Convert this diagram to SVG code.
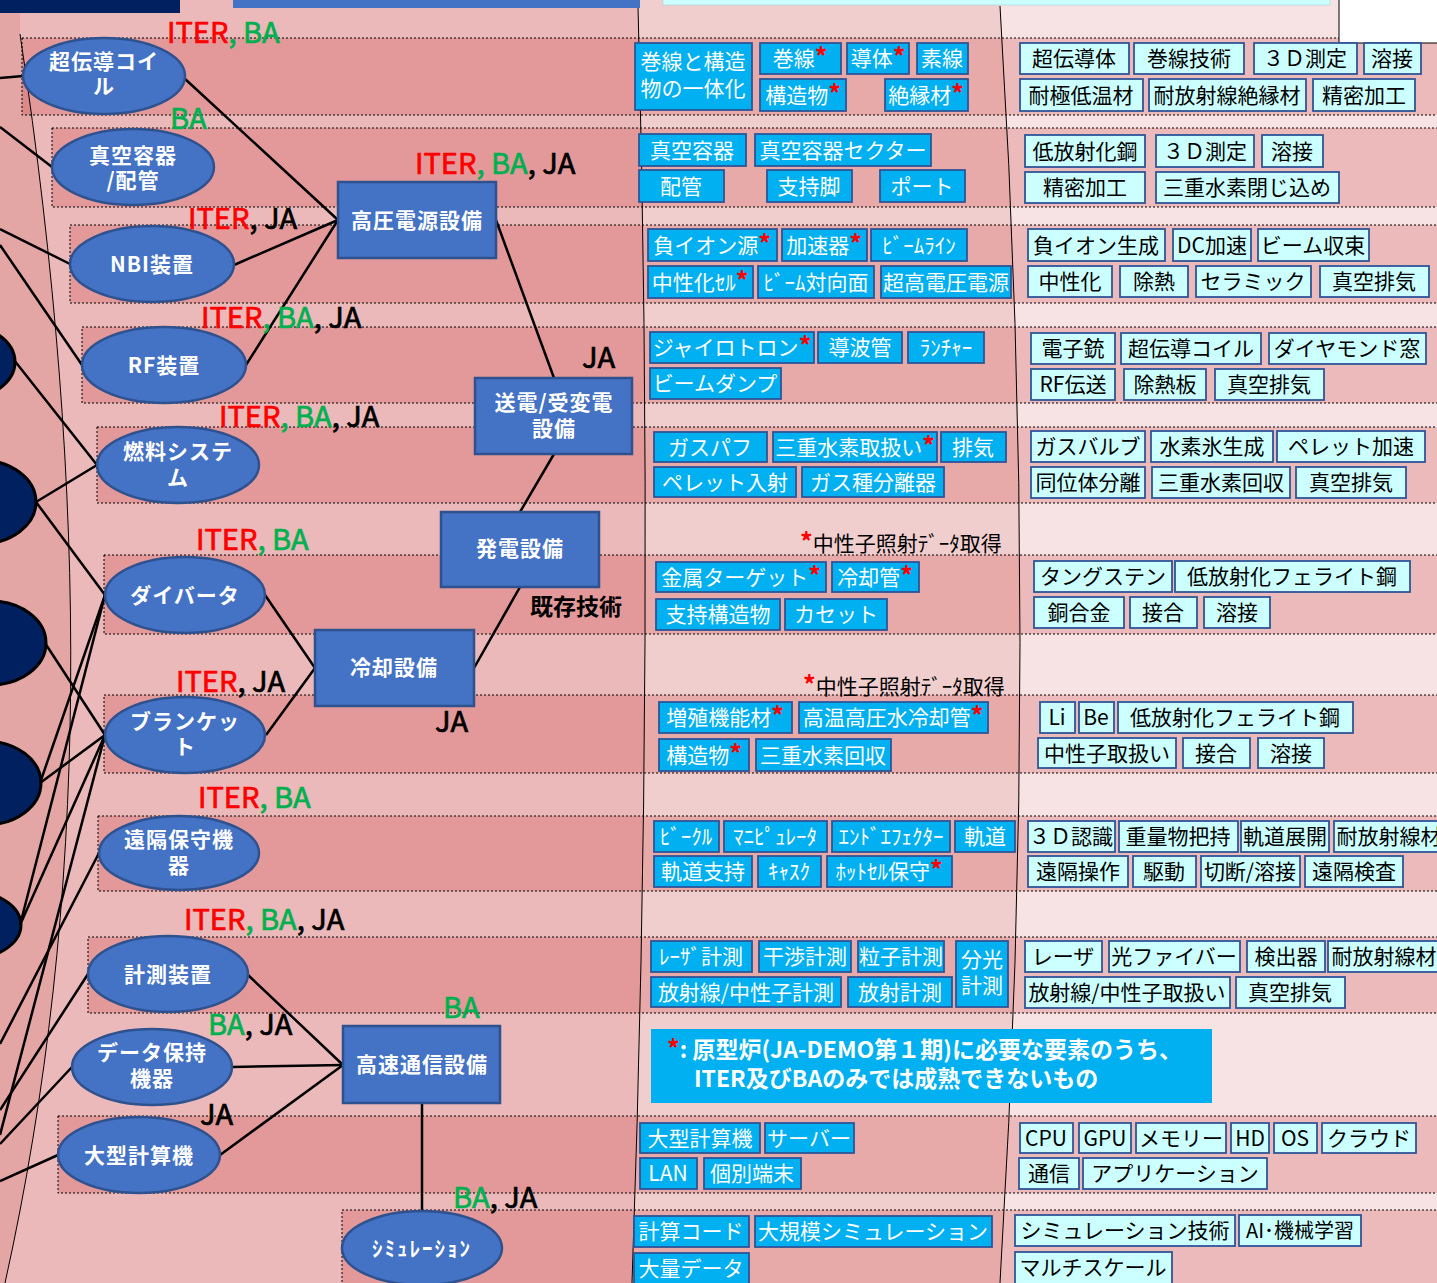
<svg xmlns="http://www.w3.org/2000/svg" width="1437" height="1283" viewBox="0 0 1437 1283">
<style>
text{font-family:'Noto Sans CJK JP',sans-serif}
.mb{fill:#00B0F0;stroke:#2F5597;stroke-width:1.8}
.rb{fill:#CCFFFF;stroke:#2F5597;stroke-width:1.8}
.mt{fill:#fff;font-size:21px;text-anchor:middle}
.rt{fill:#000;font-size:21px;text-anchor:middle}
.a{fill:#f00;font-weight:bold;font-size:25px}
.el{fill:#4472C4;stroke:#2F528F;stroke-width:2.5}
.et{fill:#fff;font-size:21px;font-weight:bold;text-anchor:middle;letter-spacing:1px}
.bx{fill:#4472C4;stroke:#2F528F;stroke-width:2.5}
.dk{fill:#002060;stroke:#000;stroke-width:3}
.lb{font-family:'Liberation Sans',Arial,sans-serif;font-size:29px;stroke-width:0.7}
.r{fill:#f00;stroke:#f00}.g{fill:#00B050;stroke:#00B050}.k{fill:#000;stroke:#000}
.row{fill:#C82828;fill-opacity:.22;stroke:#000;stroke-width:1;stroke-dasharray:2 2}
.cn line{stroke:#000;stroke-width:2.5}
.thin{fill:none;stroke:#000;stroke-width:1}
</style>
<!-- background -->
<rect x="0" y="0" width="1437" height="1283" fill="#EBB9B9"/>
<path d="M0 0 L20 0 L20 34 C90 500 90 900 5 1283 L0 1283 Z" fill="#E4A5A5"/>
<path d="M638 0 Q655 640 632 1283 L1000 1283 Q1040 640 1000 0 Z" fill="#fff" fill-opacity="0.3"/>
<path d="M1000 0 Q1040 640 1000 1283 L1437 1283 L1437 0 Z" fill="#fff" fill-opacity="0.6"/>
<!-- row bands -->
<g id="rows">
<rect class="row" x="22" y="38" width="1420" height="77"/>
<rect class="row" x="52" y="128" width="1390" height="79"/>
<rect class="row" x="70" y="225" width="1372" height="78"/>
<rect class="row" x="82" y="327" width="1360" height="76"/>
<rect class="row" x="97" y="427" width="1345" height="76"/>
<rect class="row" x="104" y="555" width="1338" height="79"/>
<rect class="row" x="104" y="695" width="1338" height="78"/>
<rect class="row" x="98" y="816" width="1344" height="75"/>
<rect class="row" x="88" y="937" width="1354" height="76"/>
<rect class="row" x="58" y="1116" width="1384" height="77"/>
<rect class="row" x="342" y="1210" width="1100" height="80"/>
</g>
<path class="thin" d="M20 34 C90 500 90 900 5 1283"/>
<path class="thin" d="M638 6 Q655 640 632 1283"/>
<path class="thin" d="M1000 6 Q1040 640 1000 1283"/>
<!-- top bars -->
<rect x="0" y="0" width="180" height="13" fill="#002060"/>
<rect x="233" y="0" width="407" height="8" fill="#4472C4"/>
<rect x="663" y="-1" width="667" height="6" fill="#CCFFFF" stroke="#9CC" stroke-width="0.5"/>
<rect x="1339" y="-1" width="100" height="44" fill="#fff" stroke="#000" stroke-width="1"/>
<!-- dark ellipses at left -->
<g id="outer-nodes">
<ellipse class="dk" cx="-40" cy="362" rx="55" ry="38"/>
<ellipse class="dk" cx="-20" cy="502" rx="56" ry="42"/>
<ellipse class="dk" cx="-10" cy="643" rx="56" ry="42"/>
<ellipse class="dk" cx="-15" cy="783" rx="56" ry="42"/>
<ellipse class="dk" cx="-35" cy="925" rx="56" ry="35"/>
</g>
<!-- connectors -->
<g id="connectors" class="cn">
<line x1="184" y1="78" x2="338" y2="220"/>
<line x1="234" y1="265" x2="338" y2="220"/>
<line x1="246" y1="365" x2="338" y2="220"/>
<line x1="496" y1="220" x2="554" y2="378"/>
<line x1="554" y1="454" x2="520" y2="512"/>
<line x1="520" y1="587" x2="474" y2="668"/>
<line x1="265" y1="595" x2="315" y2="668"/>
<line x1="266" y1="735" x2="315" y2="668"/>
<line x1="248" y1="975" x2="343" y2="1065"/>
<line x1="232" y1="1067" x2="343" y2="1065"/>
<line x1="220" y1="1155" x2="343" y2="1065"/>
<line x1="422" y1="1103" x2="422" y2="1211"/>
<line x1="0" y1="78" x2="23" y2="76"/>
<line x1="0" y1="127" x2="52" y2="167"/>
<line x1="0" y1="229" x2="70" y2="264"/>
<line x1="0" y1="245" x2="82" y2="365"/>
<line x1="14" y1="360" x2="97" y2="465"/>
<line x1="36" y1="502" x2="97" y2="465"/>
<line x1="36" y1="502" x2="105" y2="595"/>
<line x1="45" y1="643" x2="105" y2="735"/>
<line x1="40" y1="783" x2="105" y2="735"/>
<line x1="40" y1="783" x2="105" y2="595"/>
<line x1="20" y1="925" x2="105" y2="595"/>
<line x1="20" y1="925" x2="105" y2="735"/>
<line x1="0" y1="1135" x2="105" y2="735"/>
<line x1="0" y1="1044" x2="99" y2="853"/>
<line x1="0" y1="1110" x2="88" y2="974"/>
<line x1="0" y1="1144" x2="72" y2="1067"/>
<line x1="0" y1="1181" x2="58" y2="1155"/>
</g>
<!-- ellipse nodes -->
<g id="n-coil"><ellipse class="el" cx="104" cy="76" rx="81" ry="38"/><text class="et" x="104" y="69">超伝導コイ</text><text class="et" x="104" y="94">ル</text></g>
<g id="n-vessel"><ellipse class="el" cx="133" cy="167" rx="81" ry="38"/><text class="et" x="133" y="163">真空容器</text><text class="et" x="133" y="188">/配管</text></g>
<g id="n-nbi"><ellipse class="el" cx="152" cy="264" rx="82" ry="38"/><text class="et" x="152" y="272">NBI装置</text></g>
<g id="n-rf"><ellipse class="el" cx="164" cy="365" rx="82" ry="38"/><text class="et" x="164" y="373">RF装置</text></g>
<g id="n-fuel"><ellipse class="el" cx="178" cy="465" rx="81" ry="38"/><text class="et" x="178" y="459">燃料システ</text><text class="et" x="178" y="485">ム</text></g>
<g id="n-divertor"><ellipse class="el" cx="185" cy="595" rx="80" ry="38"/><text class="et" x="185" y="603">ダイバータ</text></g>
<g id="n-blanket"><ellipse class="el" cx="185" cy="735" rx="80" ry="38"/><text class="et" x="185" y="729">ブランケッ</text><text class="et" x="185" y="754">ト</text></g>
<g id="n-rh"><ellipse class="el" cx="179" cy="853" rx="80" ry="37"/><text class="et" x="179" y="847">遠隔保守機</text><text class="et" x="179" y="873">器</text></g>
<g id="n-diag"><ellipse class="el" cx="168" cy="974" rx="80" ry="38"/><text class="et" x="168" y="982">計測装置</text></g>
<g id="n-data"><ellipse class="el" cx="152" cy="1067" rx="80" ry="38"/><text class="et" x="152" y="1060">データ保持</text><text class="et" x="152" y="1086">機器</text></g>
<g id="n-hpc"><ellipse class="el" cx="139" cy="1155" rx="81" ry="38"/><text class="et" x="139" y="1163">大型計算機</text></g>
<g id="n-sim"><ellipse class="el" cx="422" cy="1248" rx="80" ry="37"/><text class="et" x="422" y="1256" style="letter-spacing:2px">ｼﾐｭﾚｰｼｮﾝ</text></g>
<!-- box nodes -->
<g id="n-hv"><rect class="bx" x="338" y="182" width="158" height="76"/><text class="et" x="417" y="228">高圧電源設備</text></g>
<g id="n-grid"><rect class="bx" x="475" y="378" width="157" height="76"/><text class="et" x="554" y="410">送電/受変電</text><text class="et" x="554" y="436">設備</text></g>
<g id="n-power"><rect class="bx" x="441" y="512" width="158" height="75"/><text class="et" x="520" y="556">発電設備</text></g>
<g id="n-cool"><rect class="bx" x="315" y="630" width="159" height="76"/><text class="et" x="394" y="675">冷却設備</text></g>
<g id="n-comm"><rect class="bx" x="343" y="1026" width="157" height="77"/><text class="et" x="422" y="1072">高速通信設備</text></g>
<!-- labels -->
<g id="labels" class="lb">
<text x="167" y="43"><tspan class="r">ITER</tspan><tspan class="g">, BA</tspan></text>
<text x="170" y="129" class="g">BA</text>
<text x="415" y="174"><tspan class="r">ITER</tspan><tspan class="g">, BA</tspan><tspan class="k">, JA</tspan></text>
<text x="188" y="229"><tspan class="r">ITER</tspan><tspan class="k">, JA</tspan></text>
<text x="201" y="328"><tspan class="r">ITER</tspan><tspan class="g">, BA</tspan><tspan class="k">, JA</tspan></text>
<text x="582" y="368" class="k">JA</text>
<text x="219" y="427"><tspan class="r">ITER</tspan><tspan class="g">, BA</tspan><tspan class="k">, JA</tspan></text>
<text x="196" y="550"><tspan class="r">ITER</tspan><tspan class="g">, BA</tspan></text>
<text x="176" y="692"><tspan class="r">ITER</tspan><tspan class="k">, JA</tspan></text>
<text x="435" y="732" class="k">JA</text>
<text x="198" y="808"><tspan class="r">ITER</tspan><tspan class="g">, BA</tspan></text>
<text x="184" y="930"><tspan class="r">ITER</tspan><tspan class="g">, BA</tspan><tspan class="k">, JA</tspan></text>
<text x="443" y="1018" class="g">BA</text>
<text x="208" y="1035"><tspan class="g">BA</tspan><tspan class="k">, JA</tspan></text>
<text x="200" y="1125" class="k">JA</text>
<text x="453" y="1208"><tspan class="g">BA</tspan><tspan class="k">, JA</tspan></text>
</g>
<text x="530" y="615" style="font-size:23px;font-weight:bold;fill:#000">既存技術</text>
<text x="800" y="551" style="font-size:21px;fill:#000"><tspan class="a">*</tspan>中性子照射ﾃﾞｰﾀ取得</text>
<text x="803" y="694" style="font-size:21px;fill:#000"><tspan class="a">*</tspan>中性子照射ﾃﾞｰﾀ取得</text>
<!-- note -->
<g id="note"><rect x="651" y="1029" width="561" height="74" fill="#00B0F0"/>
<text x="667" y="1058" style="font-size:23px;font-weight:bold;fill:#fff"><tspan class="a">*</tspan>: 原型炉(JA-DEMO第１期)に必要な要素のうち、</text>
<text x="694" y="1087" style="font-size:23px;font-weight:bold;fill:#fff">ITER及びBAのみでは成熟できないもの</text></g>
<!-- middle column element boxes -->
<g id="mid-r1"><rect class="mb" x="635" y="43" width="117" height="67"/><text class="mt" x="693" y="69">巻線と構造</text><text class="mt" x="693" y="96">物の一体化</text>
<rect class="mb" x="760" y="43" width="81" height="31"/><text class="mt" x="800" y="66">巻線<tspan class="a">*</tspan></text>
<rect class="mb" x="847" y="43" width="62" height="31"/><text class="mt" x="878" y="66">導体<tspan class="a">*</tspan></text>
<rect class="mb" x="917" y="43" width="51" height="31"/><text class="mt" x="942" y="66">素線</text>
<rect class="mb" x="760" y="79" width="86" height="32"/><text class="mt" x="803" y="103">構造物<tspan class="a">*</tspan></text>
<rect class="mb" x="885" y="79" width="83" height="32"/><text class="mt" x="926" y="103">絶縁材<tspan class="a">*</tspan></text></g>
<g id="mid-r2"><rect class="mb" x="639" y="134" width="107" height="32"/><text class="mt" x="692" y="158">真空容器</text>
<rect class="mb" x="755" y="134" width="176" height="32"/><text class="mt" x="843" y="158">真空容器セクター</text>
<rect class="mb" x="639" y="170" width="85" height="32"/><text class="mt" x="681" y="194">配管</text>
<rect class="mb" x="767" y="170" width="85" height="32"/><text class="mt" x="809" y="194">支持脚</text>
<rect class="mb" x="880" y="170" width="85" height="32"/><text class="mt" x="922" y="194">ポート</text></g>
<g id="mid-r3"><rect class="mb" x="648" y="229" width="129" height="32"/><text class="mt" x="712" y="253">負イオン源<tspan class="a">*</tspan></text>
<rect class="mb" x="782" y="229" width="85" height="32"/><text class="mt" x="824" y="253">加速器<tspan class="a">*</tspan></text>
<rect class="mb" x="871" y="229" width="96" height="32"/><text class="mt" x="919" y="253">ﾋﾞｰﾑﾗｲﾝ</text>
<rect class="mb" x="648" y="266" width="105" height="32"/><text class="mt" x="700" y="290">中性化ｾﾙ<tspan class="a">*</tspan></text>
<rect class="mb" x="758" y="266" width="116" height="32"/><text class="mt" x="816" y="290">ﾋﾞｰﾑ対向面</text>
<rect class="mb" x="881" y="266" width="130" height="32"/><text class="mt" x="946" y="290">超高電圧電源</text></g>
<g id="mid-r4"><rect class="mb" x="650" y="332" width="164" height="31"/><text class="mt" x="732" y="355">ジャイロトロン<tspan class="a">*</tspan></text>
<rect class="mb" x="818" y="332" width="84" height="31"/><text class="mt" x="860" y="355">導波管</text>
<rect class="mb" x="908" y="332" width="76" height="31"/><text class="mt" x="946" y="355">ﾗﾝﾁｬｰ</text>
<rect class="mb" x="650" y="368" width="131" height="31"/><text class="mt" x="715" y="391">ビームダンプ</text></g>
<g id="mid-r5"><rect class="mb" x="654" y="432" width="113" height="30"/><text class="mt" x="710" y="455">ガスパフ</text>
<rect class="mb" x="773" y="432" width="164" height="30"/><text class="mt" x="855" y="455">三重水素取扱い<tspan class="a">*</tspan></text>
<rect class="mb" x="941" y="432" width="65" height="30"/><text class="mt" x="973" y="455">排気</text>
<rect class="mb" x="654" y="467" width="142" height="30"/><text class="mt" x="725" y="490">ペレット入射</text>
<rect class="mb" x="802" y="467" width="142" height="30"/><text class="mt" x="873" y="490">ガス種分離器</text></g>
<g id="mid-r6"><rect class="mb" x="656" y="562" width="170" height="30"/><text class="mt" x="741" y="585">金属ターゲット<tspan class="a">*</tspan></text>
<rect class="mb" x="832" y="562" width="87" height="30"/><text class="mt" x="875" y="585">冷却管<tspan class="a">*</tspan></text>
<rect class="mb" x="656" y="599" width="124" height="31"/><text class="mt" x="718" y="622">支持構造物</text>
<rect class="mb" x="785" y="599" width="102" height="31"/><text class="mt" x="836" y="622">カセット</text></g>
<g id="mid-r7"><rect class="mb" x="659" y="702" width="133" height="31"/><text class="mt" x="725" y="725">増殖機能材<tspan class="a">*</tspan></text>
<rect class="mb" x="799" y="702" width="189" height="31"/><text class="mt" x="893" y="725">高温高圧水冷却管<tspan class="a">*</tspan></text>
<rect class="mb" x="659" y="739" width="90" height="32"/><text class="mt" x="704" y="763">構造物<tspan class="a">*</tspan></text>
<rect class="mb" x="756" y="739" width="135" height="32"/><text class="mt" x="823" y="763">三重水素回収</text></g>
<g id="mid-r8"><rect class="mb" x="654" y="821" width="65" height="31"/><text class="mt" x="686" y="844">ﾋﾞｰｸﾙ</text>
<rect class="mb" x="724" y="821" width="103" height="31"/><text class="mt" x="775" y="844">ﾏﾆﾋﾟｭﾚｰﾀ</text>
<rect class="mb" x="832" y="821" width="118" height="31"/><text class="mt" x="891" y="844">ｴﾝﾄﾞｴﾌｪｸﾀｰ</text>
<rect class="mb" x="955" y="821" width="60" height="31"/><text class="mt" x="985" y="844">軌道</text>
<rect class="mb" x="654" y="856" width="98" height="31"/><text class="mt" x="703" y="879">軌道支持</text>
<rect class="mb" x="758" y="856" width="63" height="31"/><text class="mt" x="789" y="879">ｷｬｽｸ</text>
<rect class="mb" x="827" y="856" width="125" height="31"/><text class="mt" x="889" y="879">ﾎｯﾄｾﾙ保守<tspan class="a">*</tspan></text></g>
<g id="mid-r9"><rect class="mb" x="651" y="941" width="101" height="31"/><text class="mt" x="701" y="964">ﾚｰｻﾞ計測</text>
<rect class="mb" x="759" y="941" width="92" height="31"/><text class="mt" x="805" y="964">干渉計測</text>
<rect class="mb" x="858" y="941" width="86" height="31"/><text class="mt" x="901" y="964">粒子計測</text>
<rect class="mb" x="956" y="941" width="52" height="66"/><text class="mt" x="982" y="967">分光</text><text class="mt" x="982" y="993">計測</text>
<rect class="mb" x="651" y="977" width="190" height="30"/><text class="mt" x="746" y="1000">放射線/中性子計測</text>
<rect class="mb" x="848" y="977" width="104" height="30"/><text class="mt" x="900" y="1000">放射計測</text></g>
<g id="mid-r10"><rect class="mb" x="640" y="1123" width="120" height="30"/><text class="mt" x="700" y="1146">大型計算機</text>
<rect class="mb" x="765" y="1123" width="89" height="30"/><text class="mt" x="809" y="1146">サーバー</text>
<rect class="mb" x="640" y="1158" width="57" height="31"/><text class="mt" x="668" y="1181">LAN</text>
<rect class="mb" x="704" y="1158" width="97" height="31"/><text class="mt" x="752" y="1181">個別端末</text></g>
<g id="mid-r11"><rect class="mb" x="634" y="1216" width="115" height="31"/><text class="mt" x="691" y="1239">計算コード</text>
<rect class="mb" x="755" y="1216" width="237" height="31"/><text class="mt" x="873" y="1239">大規模シミュレーション</text>
<rect class="mb" x="634" y="1253" width="115" height="32"/><text class="mt" x="691" y="1276">大量データ</text></g>
<!-- right column technology boxes -->
<g id="tech-r1"><rect class="rb" x="1020" y="43" width="109" height="31"/><text class="rt" x="1074" y="66">超伝導体</text>
<rect class="rb" x="1134" y="43" width="110" height="31"/><text class="rt" x="1189" y="66">巻線技術</text>
<rect class="rb" x="1254" y="43" width="103" height="31"/><text class="rt" x="1305" y="66">３Ｄ測定</text>
<rect class="rb" x="1364" y="43" width="57" height="31"/><text class="rt" x="1392" y="66">溶接</text>
<rect class="rb" x="1020" y="79" width="123" height="32"/><text class="rt" x="1081" y="103">耐極低温材</text>
<rect class="rb" x="1149" y="79" width="157" height="32"/><text class="rt" x="1227" y="103">耐放射線絶縁材</text>
<rect class="rb" x="1313" y="79" width="102" height="32"/><text class="rt" x="1364" y="103">精密加工</text></g>
<g id="tech-r2"><rect class="rb" x="1025" y="135" width="120" height="32"/><text class="rt" x="1085" y="159">低放射化鋼</text>
<rect class="rb" x="1156" y="135" width="98" height="32"/><text class="rt" x="1205" y="159">３Ｄ測定</text>
<rect class="rb" x="1262" y="135" width="61" height="32"/><text class="rt" x="1292" y="159">溶接</text>
<rect class="rb" x="1025" y="172" width="120" height="31"/><text class="rt" x="1085" y="195">精密加工</text>
<rect class="rb" x="1156" y="172" width="183" height="31"/><text class="rt" x="1247" y="195">三重水素閉じ込め</text></g>
<g id="tech-r3"><rect class="rb" x="1028" y="229" width="137" height="32"/><text class="rt" x="1096" y="253">負イオン生成</text>
<rect class="rb" x="1173" y="229" width="78" height="32"/><text class="rt" x="1212" y="253">DC加速</text>
<rect class="rb" x="1258" y="229" width="111" height="32"/><text class="rt" x="1313" y="253">ビーム収束</text>
<rect class="rb" x="1028" y="266" width="84" height="31"/><text class="rt" x="1070" y="289">中性化</text>
<rect class="rb" x="1120" y="266" width="68" height="31"/><text class="rt" x="1154" y="289">除熱</text>
<rect class="rb" x="1196" y="266" width="115" height="31"/><text class="rt" x="1253" y="289">セラミック</text>
<rect class="rb" x="1320" y="266" width="109" height="31"/><text class="rt" x="1374" y="289">真空排気</text></g>
<g id="tech-r4"><rect class="rb" x="1031" y="333" width="84" height="31"/><text class="rt" x="1073" y="356">電子銃</text>
<rect class="rb" x="1121" y="333" width="140" height="31"/><text class="rt" x="1191" y="356">超伝導コイル</text>
<rect class="rb" x="1269" y="333" width="157" height="31"/><text class="rt" x="1347" y="356">ダイヤモンド窓</text>
<rect class="rb" x="1031" y="369" width="84" height="31"/><text class="rt" x="1073" y="392">RF伝送</text>
<rect class="rb" x="1124" y="369" width="82" height="31"/><text class="rt" x="1165" y="392">除熱板</text>
<rect class="rb" x="1215" y="369" width="109" height="31"/><text class="rt" x="1269" y="392">真空排気</text></g>
<g id="tech-r5"><rect class="rb" x="1031" y="431" width="114" height="31"/><text class="rt" x="1088" y="454">ガスバルブ</text>
<rect class="rb" x="1151" y="431" width="122" height="31"/><text class="rt" x="1212" y="454">水素氷生成</text>
<rect class="rb" x="1277" y="431" width="148" height="31"/><text class="rt" x="1351" y="454">ペレット加速</text>
<rect class="rb" x="1031" y="467" width="114" height="31"/><text class="rt" x="1088" y="490">同位体分離</text>
<rect class="rb" x="1152" y="467" width="138" height="31"/><text class="rt" x="1221" y="490">三重水素回収</text>
<rect class="rb" x="1296" y="467" width="110" height="31"/><text class="rt" x="1351" y="490">真空排気</text></g>
<g id="tech-r6"><rect class="rb" x="1034" y="561" width="138" height="31"/><text class="rt" x="1103" y="584">タングステン</text>
<rect class="rb" x="1175" y="561" width="235" height="31"/><text class="rt" x="1292" y="584">低放射化フェライト鋼</text>
<rect class="rb" x="1034" y="597" width="90" height="31"/><text class="rt" x="1079" y="620">銅合金</text>
<rect class="rb" x="1130" y="597" width="67" height="31"/><text class="rt" x="1163" y="620">接合</text>
<rect class="rb" x="1204" y="597" width="66" height="31"/><text class="rt" x="1237" y="620">溶接</text></g>
<g id="tech-r7"><rect class="rb" x="1040" y="702" width="35" height="31"/><text class="rt" x="1057" y="725">Li</text>
<rect class="rb" x="1079" y="702" width="35" height="31"/><text class="rt" x="1096" y="725">Be</text>
<rect class="rb" x="1118" y="702" width="235" height="31"/><text class="rt" x="1235" y="725">低放射化フェライト鋼</text>
<rect class="rb" x="1038" y="738" width="138" height="30"/><text class="rt" x="1107" y="761">中性子取扱い</text>
<rect class="rb" x="1183" y="738" width="67" height="30"/><text class="rt" x="1216" y="761">接合</text>
<rect class="rb" x="1258" y="738" width="66" height="30"/><text class="rt" x="1291" y="761">溶接</text></g>
<g id="tech-r8"><rect class="rb" x="1028" y="821" width="87" height="31"/><text class="rt" x="1071" y="844">３Ｄ認識</text>
<rect class="rb" x="1119" y="821" width="119" height="31"/><text class="rt" x="1178" y="844">重量物把持</text>
<rect class="rb" x="1241" y="821" width="88" height="31"/><text class="rt" x="1285" y="844">軌道展開</text>
<rect class="rb" x="1334" y="821" width="110" height="31"/><text class="rt" x="1389" y="844">耐放射線材</text>
<rect class="rb" x="1028" y="856" width="100" height="31"/><text class="rt" x="1078" y="879">遠隔操作</text>
<rect class="rb" x="1133" y="856" width="63" height="31"/><text class="rt" x="1164" y="879">駆動</text>
<rect class="rb" x="1201" y="856" width="99" height="31"/><text class="rt" x="1250" y="879">切断/溶接</text>
<rect class="rb" x="1305" y="856" width="98" height="31"/><text class="rt" x="1354" y="879">遠隔検査</text></g>
<g id="tech-r9"><rect class="rb" x="1025" y="941" width="77" height="31"/><text class="rt" x="1063" y="964">レーザ</text>
<rect class="rb" x="1109" y="941" width="131" height="31"/><text class="rt" x="1174" y="964">光ファイバー</text>
<rect class="rb" x="1247" y="941" width="78" height="31"/><text class="rt" x="1286" y="964">検出器</text>
<rect class="rb" x="1328" y="941" width="112" height="31"/><text class="rt" x="1384" y="964">耐放射線材</text>
<rect class="rb" x="1025" y="977" width="205" height="31"/><text class="rt" x="1127" y="1000">放射線/中性子取扱い</text>
<rect class="rb" x="1236" y="977" width="109" height="31"/><text class="rt" x="1290" y="1000">真空排気</text></g>
<g id="tech-r10"><rect class="rb" x="1020" y="1123" width="53" height="30"/><text class="rt" x="1046" y="1146">CPU</text>
<rect class="rb" x="1079" y="1123" width="52" height="30"/><text class="rt" x="1105" y="1146">GPU</text>
<rect class="rb" x="1136" y="1123" width="90" height="30"/><text class="rt" x="1181" y="1146">メモリー</text>
<rect class="rb" x="1231" y="1123" width="38" height="30"/><text class="rt" x="1250" y="1146">HD</text>
<rect class="rb" x="1274" y="1123" width="43" height="30"/><text class="rt" x="1295" y="1146">OS</text>
<rect class="rb" x="1322" y="1123" width="94" height="30"/><text class="rt" x="1369" y="1146">クラウド</text>
<rect class="rb" x="1019" y="1158" width="60" height="31"/><text class="rt" x="1049" y="1181">通信</text>
<rect class="rb" x="1083" y="1158" width="184" height="31"/><text class="rt" x="1175" y="1181">アプリケーション</text></g>
<g id="tech-r11"><rect class="rb" x="1015" y="1215" width="220" height="31"/><text class="rt" x="1125" y="1238">シミュレーション技術</text>
<rect class="rb" x="1239" y="1215" width="122" height="31"/><text class="rt" x="1300" y="1238" style="font-size:20px">AI･機械学習</text>
<rect class="rb" x="1015" y="1252" width="157" height="32"/><text class="rt" x="1093" y="1275">マルチスケール</text></g>
</svg>
